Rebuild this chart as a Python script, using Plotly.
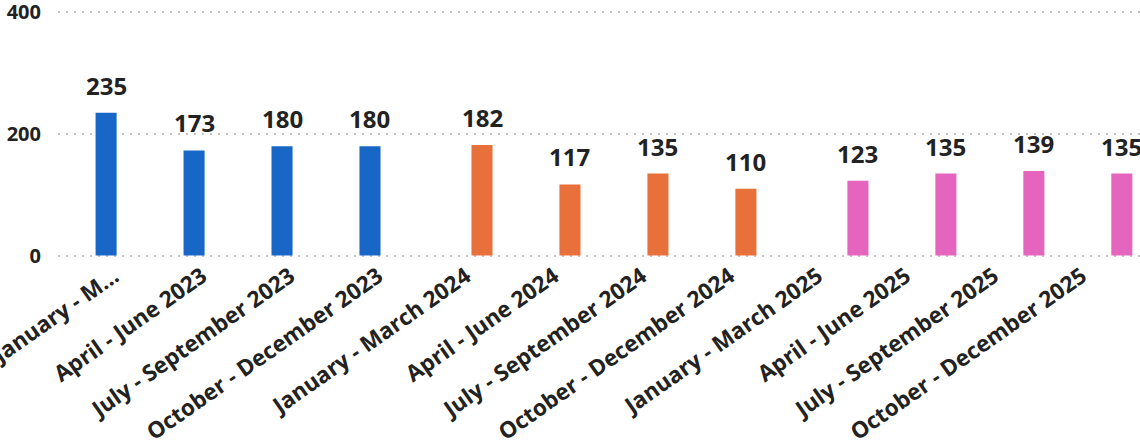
import plotly.graph_objects as go

categories = [
    "January - March 2023", "April - June 2023", "July - September 2023", "October - December 2023",
    "January - March 2024", "April - June 2024", "July - September 2024", "October - December 2024",
    "January - March 2025", "April - June 2025", "July - September 2025", "October - December 2025",
]
tick_labels = [
    "January - M...", "April - June 2023", "July - September 2023", "October - December 2023",
    "January - March 2024", "April - June 2024", "July - September 2024", "October - December 2024",
    "January - March 2025", "April - June 2025", "July - September 2025", "October - December 2025",
]
years = ["2023", "2024", "2025"]
values_2023 = [235, 173, 180, 180, None, None, None, None, None, None, None, None]
values_2024 = [None, None, None, None, 182, 117, 135, 110, None, None, None, None]
values_2025 = [None, None, None, None, None, None, None, None, 123, 135, 139, 135]
colors = ["#1866C5", "#E8703A", "#E464BE"]
y_ticks = [0, 200, 400]

series = [values_2023, values_2024, values_2025]

FONT = "Open Sans"
BARGAP = 0.18
GROUPGAP = 0.125
slot = (1 - BARGAP) / len(series)

fig = go.Figure()
idx = list(range(len(categories)))
for s, (name, vals, col) in enumerate(zip(years, series, colors)):
    fig.add_trace(go.Bar(
        x=idx, y=vals, name=name, marker=dict(color=col, line=dict(width=0)),
        hoverinfo="x+y",
    ))
    for i, v in enumerate(vals):
        if v is None:
            continue
        fig.add_annotation(
            x=i + (s - (len(series) - 1) / 2) * slot, y=v, xref="x", yref="y",
            text=str(v), showarrow=False, yanchor="bottom", yshift=9,
            font=dict(family=FONT, size=24, color="#222222", weight="bold"),
        )

fig.update_layout(
    width=1140, height=446,
    barmode="group", bargap=BARGAP, bargroupgap=GROUPGAP,
    showlegend=False,
    plot_bgcolor="white", paper_bgcolor="white",
    margin=dict(l=58, r=0, t=10, b=188, autoexpand=False),
    font=dict(family=FONT, color="#222222"),
)
fig.update_xaxes(
    range=[-0.82, 11.48], tickmode="array", tickvals=idx, ticktext=tick_labels,
    tickangle=-35, tickfont=dict(family=FONT, size=22.5, color="#222222", weight="bold"),
    showgrid=False, zeroline=False, showline=False, ticks="", automargin=False,
    ticklabeloverflow="allow", ticklabelshift=-16,
)
fig.update_yaxes(
    range=[-4, 404], tickmode="array", tickvals=y_ticks, showgrid=True, gridcolor="#c4c4c4",
    griddash="2px,6px", gridwidth=1.5, zeroline=False, showline=False,
    tickfont=dict(family=FONT, size=20, color="#222222", weight="bold"),
    ticklabelstandoff=16, automargin=False, ticklabeloverflow="allow",
)

fig.write_html(
    "out.html",
    config={"displayModeBar": False},
    post_script="document.body.style.margin='0';document.body.style.overflow='hidden';",
)
